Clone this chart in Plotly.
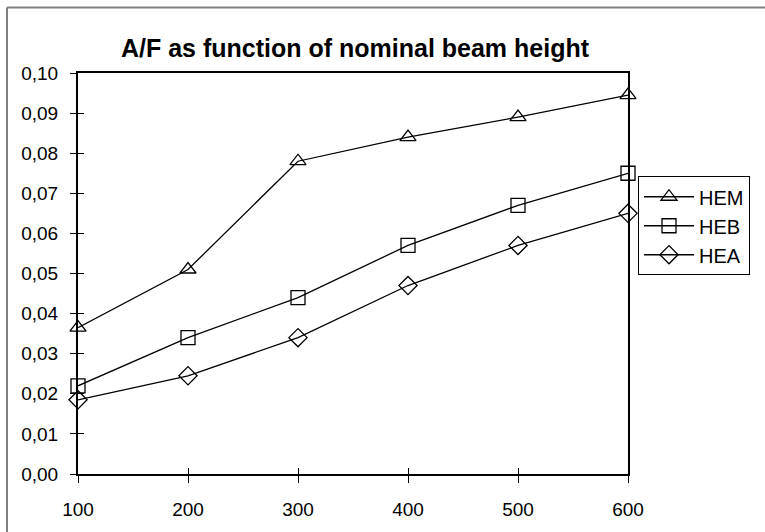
import plotly.graph_objects as go

heights = [100, 200, 300, 400, 500, 600]
hem = [0.0365, 0.051, 0.078, 0.084, 0.089, 0.0945]
heb = [0.022, 0.034, 0.044, 0.057, 0.067, 0.075]
hea = [0.0185, 0.0245, 0.034, 0.047, 0.057, 0.065]
y_ticks = [0.00, 0.01, 0.02, 0.03, 0.04, 0.05, 0.06, 0.07, 0.08, 0.09, 0.10]

FONT = "Liberation Sans, Arial, sans-serif"
L, R, T, B = 78, 628, 73, 477
W, H = 765, 532

fig = go.Figure()
series = [("HEM", hem, "triangle-up-open", 14), ("HEB", heb, "square-open", 14),
          ("HEA", hea, "diamond-open", 14)]
for name, vals, sym, sz in series:
    fig.add_trace(go.Scatter(
        x=heights, y=vals, name=name, mode="lines+markers",
        line=dict(color="black", width=1.3),
        marker=dict(symbol=sym, size=sz, color="black",
                    line=dict(color="black", width=1.3)),
        cliponaxis=False,
    ))

# invisible trace for overlay axes carrying inward tick marks
fig.add_trace(go.Scatter(x=[heights[0]], y=[y_ticks[0]], xaxis="x2", yaxis="y2",
                         mode="markers", marker=dict(opacity=0), showlegend=False,
                         hoverinfo="skip"))

pw = R - L
ph = B - T
bx0 = (7 - L) / pw
by1 = (B - 7) / ph
fig.update_layout(
    width=W, height=H,
    margin=dict(l=L, r=W - R, t=T, b=H - B),
    paper_bgcolor="white", plot_bgcolor="white",
    separators=",.",
    font=dict(family=FONT, size=19, color="black"),
    title=dict(text="<b>A/F as function of nominal beam height</b>",
               x=355 / W, xanchor="center", xref="container",
               y=1 - 48 / H, yanchor="middle", yref="container",
               font=dict(size=25, family=FONT, color="black")),
    xaxis=dict(range=[100, 600], tickvals=heights, ticks="outside", ticklen=7,
               tickcolor="black", showline=True, linecolor="black", linewidth=2,
               mirror=True, showgrid=False, zeroline=False, ticklabelstandoff=10,
               tickfont=dict(size=19)),
    yaxis=dict(range=[0, 0.10], tickvals=y_ticks, tickformat=".2f", ticks="outside",
               ticklen=6, tickcolor="black", showline=True, linecolor="black",
               linewidth=2, mirror=True, showgrid=False, zeroline=False,
               ticklabelstandoff=8, tickfont=dict(size=19)),
    xaxis2=dict(range=[100, 600], tickvals=heights, ticks="inside", ticklen=6,
                tickcolor="black", overlaying="x", side="bottom", showticklabels=False,
                showgrid=False, zeroline=False, showline=False),
    yaxis2=dict(range=[0, 0.10], tickvals=y_ticks, ticks="inside", ticklen=6,
                tickcolor="black", overlaying="y", side="left", showticklabels=False,
                showgrid=False, zeroline=False, showline=False),
    legend=dict(x=(638 - L) / pw, y=(B - 177) / ph, xanchor="left", yanchor="top",
                bordercolor="black", borderwidth=1, bgcolor="white",
                font=dict(size=20, family=FONT), tracegroupgap=0, itemwidth=50),
    shapes=[
        dict(type="line", xref="paper", yref="paper",
             x0=bx0, x1=(W + 300 - L) / pw, y0=by1, y1=by1,
             line=dict(color="#808080", width=2), layer="below"),
        dict(type="line", xref="paper", yref="paper",
             x0=bx0, x1=bx0, y0=by1, y1=(B - (H + 300)) / ph,
             line=dict(color="#808080", width=2), layer="below"),
    ],
    showlegend=True,
)

fig.write_html("out.html", config={"displayModeBar": False},
               post_script="document.body.style.margin='0';")
